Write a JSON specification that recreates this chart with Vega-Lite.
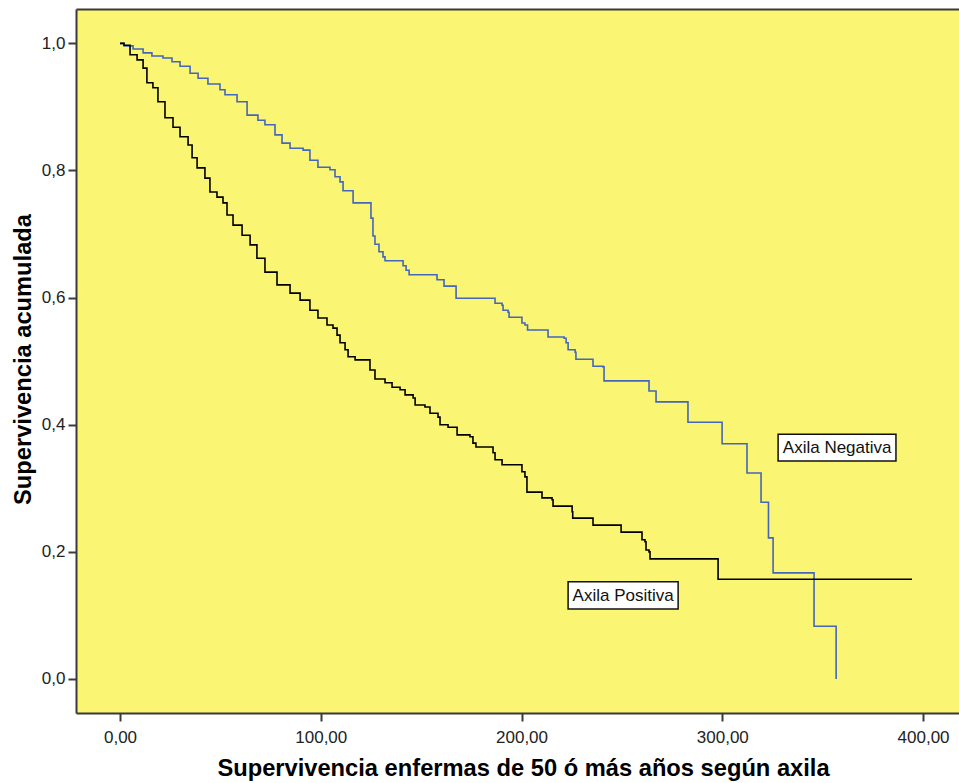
{
  "$schema": "https://vega.github.io/schema/vega-lite/v6.json",
  "width": 883,
  "height": 704,
  "autosize": {"type": "none"},
  "padding": {"left": 76, "top": 9, "right": 0, "bottom": 70},
  "background": "white",
  "config": {
    "view": {"fill": "#faf572", "stroke": null},
    "font": "Liberation Sans",
    "axis": {
      "grid": false,
      "domainColor": "#3a3a3a",
      "domainWidth": 2,
      "tickColor": "#3a3a3a",
      "tickWidth": 2,
      "tickSize": 8,
      "labelFont": "Liberation Sans",
      "labelFontSize": 17,
      "labelColor": "#222222",
      "titleFont": "Liberation Sans",
      "titleFontWeight": "bold",
      "titleFontSize": 23.7,
      "titleColor": "#000000"
    }
  },
  "datasets": {
    "curvas": [
      {"grupo": "Axila Negativa", "t": 0, "s": 1.0},
      {"grupo": "Axila Negativa", "t": 2.0, "s": 0.996},
      {"grupo": "Axila Negativa", "t": 6.5, "s": 0.991},
      {"grupo": "Axila Negativa", "t": 11.5, "s": 0.985},
      {"grupo": "Axila Negativa", "t": 15.9, "s": 0.980},
      {"grupo": "Axila Negativa", "t": 21.4, "s": 0.977},
      {"grupo": "Axila Negativa", "t": 25.9, "s": 0.971},
      {"grupo": "Axila Negativa", "t": 29.9, "s": 0.964},
      {"grupo": "Axila Negativa", "t": 34.9, "s": 0.953},
      {"grupo": "Axila Negativa", "t": 38.9, "s": 0.945},
      {"grupo": "Axila Negativa", "t": 43.8, "s": 0.936},
      {"grupo": "Axila Negativa", "t": 49.8, "s": 0.927},
      {"grupo": "Axila Negativa", "t": 52.3, "s": 0.919},
      {"grupo": "Axila Negativa", "t": 58.3, "s": 0.908},
      {"grupo": "Axila Negativa", "t": 63.3, "s": 0.887},
      {"grupo": "Axila Negativa", "t": 68.7, "s": 0.879},
      {"grupo": "Axila Negativa", "t": 72.2, "s": 0.872},
      {"grupo": "Axila Negativa", "t": 77.2, "s": 0.856},
      {"grupo": "Axila Negativa", "t": 80.7, "s": 0.843},
      {"grupo": "Axila Negativa", "t": 84.7, "s": 0.835},
      {"grupo": "Axila Negativa", "t": 91.2, "s": 0.832},
      {"grupo": "Axila Negativa", "t": 94.6, "s": 0.816},
      {"grupo": "Axila Negativa", "t": 98.6, "s": 0.805},
      {"grupo": "Axila Negativa", "t": 104.6, "s": 0.801},
      {"grupo": "Axila Negativa", "t": 107.1, "s": 0.790},
      {"grupo": "Axila Negativa", "t": 109.6, "s": 0.782},
      {"grupo": "Axila Negativa", "t": 111.1, "s": 0.768},
      {"grupo": "Axila Negativa", "t": 116.1, "s": 0.749},
      {"grupo": "Axila Negativa", "t": 125.0, "s": 0.725},
      {"grupo": "Axila Negativa", "t": 126.0, "s": 0.697},
      {"grupo": "Axila Negativa", "t": 127.0, "s": 0.684},
      {"grupo": "Axila Negativa", "t": 129.0, "s": 0.672},
      {"grupo": "Axila Negativa", "t": 131.0, "s": 0.664},
      {"grupo": "Axila Negativa", "t": 132.0, "s": 0.658},
      {"grupo": "Axila Negativa", "t": 141.0, "s": 0.650},
      {"grupo": "Axila Negativa", "t": 142.5, "s": 0.643},
      {"grupo": "Axila Negativa", "t": 144.0, "s": 0.636},
      {"grupo": "Axila Negativa", "t": 157.9, "s": 0.628},
      {"grupo": "Axila Negativa", "t": 161.4, "s": 0.618},
      {"grupo": "Axila Negativa", "t": 167.4, "s": 0.599},
      {"grupo": "Axila Negativa", "t": 186.8, "s": 0.591},
      {"grupo": "Axila Negativa", "t": 190.3, "s": 0.588},
      {"grupo": "Axila Negativa", "t": 190.8, "s": 0.580},
      {"grupo": "Axila Negativa", "t": 193.3, "s": 0.577},
      {"grupo": "Axila Negativa", "t": 193.8, "s": 0.569},
      {"grupo": "Axila Negativa", "t": 200.2, "s": 0.560},
      {"grupo": "Axila Negativa", "t": 201.7, "s": 0.557},
      {"grupo": "Axila Negativa", "t": 203.0, "s": 0.549},
      {"grupo": "Axila Negativa", "t": 213.2, "s": 0.538},
      {"grupo": "Axila Negativa", "t": 221.2, "s": 0.536},
      {"grupo": "Axila Negativa", "t": 222.2, "s": 0.529},
      {"grupo": "Axila Negativa", "t": 223.2, "s": 0.518},
      {"grupo": "Axila Negativa", "t": 226.7, "s": 0.514},
      {"grupo": "Axila Negativa", "t": 227.1, "s": 0.503},
      {"grupo": "Axila Negativa", "t": 235.6, "s": 0.492},
      {"grupo": "Axila Negativa", "t": 240.6, "s": 0.491},
      {"grupo": "Axila Negativa", "t": 241.1, "s": 0.469},
      {"grupo": "Axila Negativa", "t": 263.5, "s": 0.453},
      {"grupo": "Axila Negativa", "t": 267.0, "s": 0.436},
      {"grupo": "Axila Negativa", "t": 282.9, "s": 0.404},
      {"grupo": "Axila Negativa", "t": 299.9, "s": 0.370},
      {"grupo": "Axila Negativa", "t": 312.3, "s": 0.324},
      {"grupo": "Axila Negativa", "t": 319.3, "s": 0.278},
      {"grupo": "Axila Negativa", "t": 323.0, "s": 0.222},
      {"grupo": "Axila Negativa", "t": 325.3, "s": 0.167},
      {"grupo": "Axila Negativa", "t": 345.7, "s": 0.083},
      {"grupo": "Axila Negativa", "t": 356.7, "s": 0.0},
      {"grupo": "Axila Positiva", "t": 0, "s": 1.0},
      {"grupo": "Axila Positiva", "t": 2.0, "s": 0.997},
      {"grupo": "Axila Positiva", "t": 5.0, "s": 0.982},
      {"grupo": "Axila Positiva", "t": 8.5, "s": 0.974},
      {"grupo": "Axila Positiva", "t": 11.5, "s": 0.961},
      {"grupo": "Axila Positiva", "t": 13.4, "s": 0.938},
      {"grupo": "Axila Positiva", "t": 16.4, "s": 0.930},
      {"grupo": "Axila Positiva", "t": 18.9, "s": 0.908},
      {"grupo": "Axila Positiva", "t": 22.4, "s": 0.883},
      {"grupo": "Axila Positiva", "t": 26.4, "s": 0.868},
      {"grupo": "Axila Positiva", "t": 29.9, "s": 0.853},
      {"grupo": "Axila Positiva", "t": 33.9, "s": 0.840},
      {"grupo": "Axila Positiva", "t": 35.9, "s": 0.820},
      {"grupo": "Axila Positiva", "t": 38.4, "s": 0.804},
      {"grupo": "Axila Positiva", "t": 42.3, "s": 0.788},
      {"grupo": "Axila Positiva", "t": 44.8, "s": 0.766},
      {"grupo": "Axila Positiva", "t": 48.3, "s": 0.758},
      {"grupo": "Axila Positiva", "t": 51.3, "s": 0.749},
      {"grupo": "Axila Positiva", "t": 53.3, "s": 0.730},
      {"grupo": "Axila Positiva", "t": 56.3, "s": 0.714},
      {"grupo": "Axila Positiva", "t": 60.8, "s": 0.698},
      {"grupo": "Axila Positiva", "t": 64.8, "s": 0.683},
      {"grupo": "Axila Positiva", "t": 68.2, "s": 0.662},
      {"grupo": "Axila Positiva", "t": 72.2, "s": 0.640},
      {"grupo": "Axila Positiva", "t": 78.2, "s": 0.620},
      {"grupo": "Axila Positiva", "t": 84.7, "s": 0.607},
      {"grupo": "Axila Positiva", "t": 89.7, "s": 0.596},
      {"grupo": "Axila Positiva", "t": 94.6, "s": 0.580},
      {"grupo": "Axila Positiva", "t": 98.6, "s": 0.568},
      {"grupo": "Axila Positiva", "t": 103.1, "s": 0.557},
      {"grupo": "Axila Positiva", "t": 106.1, "s": 0.552},
      {"grupo": "Axila Positiva", "t": 108.1, "s": 0.541},
      {"grupo": "Axila Positiva", "t": 109.6, "s": 0.529},
      {"grupo": "Axila Positiva", "t": 112.1, "s": 0.518},
      {"grupo": "Axila Positiva", "t": 113.6, "s": 0.507},
      {"grupo": "Axila Positiva", "t": 117.1, "s": 0.502},
      {"grupo": "Axila Positiva", "t": 124.5, "s": 0.486},
      {"grupo": "Axila Positiva", "t": 127.0, "s": 0.472},
      {"grupo": "Axila Positiva", "t": 132.0, "s": 0.466},
      {"grupo": "Axila Positiva", "t": 135.5, "s": 0.459},
      {"grupo": "Axila Positiva", "t": 139.5, "s": 0.455},
      {"grupo": "Axila Positiva", "t": 142.0, "s": 0.447},
      {"grupo": "Axila Positiva", "t": 146.0, "s": 0.442},
      {"grupo": "Axila Positiva", "t": 147.0, "s": 0.431},
      {"grupo": "Axila Positiva", "t": 151.9, "s": 0.428},
      {"grupo": "Axila Positiva", "t": 154.4, "s": 0.418},
      {"grupo": "Axila Positiva", "t": 158.4, "s": 0.412},
      {"grupo": "Axila Positiva", "t": 159.4, "s": 0.400},
      {"grupo": "Axila Positiva", "t": 163.4, "s": 0.396},
      {"grupo": "Axila Positiva", "t": 167.9, "s": 0.384},
      {"grupo": "Axila Positiva", "t": 174.3, "s": 0.381},
      {"grupo": "Axila Positiva", "t": 175.8, "s": 0.371},
      {"grupo": "Axila Positiva", "t": 177.3, "s": 0.365},
      {"grupo": "Axila Positiva", "t": 185.8, "s": 0.356},
      {"grupo": "Axila Positiva", "t": 186.8, "s": 0.345},
      {"grupo": "Axila Positiva", "t": 190.3, "s": 0.337},
      {"grupo": "Axila Positiva", "t": 200.2, "s": 0.326},
      {"grupo": "Axila Positiva", "t": 201.7, "s": 0.318},
      {"grupo": "Axila Positiva", "t": 202.7, "s": 0.294},
      {"grupo": "Axila Positiva", "t": 210.2, "s": 0.285},
      {"grupo": "Axila Positiva", "t": 215.2, "s": 0.282},
      {"grupo": "Axila Positiva", "t": 215.7, "s": 0.272},
      {"grupo": "Axila Positiva", "t": 225.2, "s": 0.263},
      {"grupo": "Axila Positiva", "t": 225.5, "s": 0.253},
      {"grupo": "Axila Positiva", "t": 235.6, "s": 0.242},
      {"grupo": "Axila Positiva", "t": 249.6, "s": 0.231},
      {"grupo": "Axila Positiva", "t": 260.0, "s": 0.219},
      {"grupo": "Axila Positiva", "t": 261.5, "s": 0.216},
      {"grupo": "Axila Positiva", "t": 262.0, "s": 0.203},
      {"grupo": "Axila Positiva", "t": 263.5, "s": 0.200},
      {"grupo": "Axila Positiva", "t": 264.0, "s": 0.189},
      {"grupo": "Axila Positiva", "t": 297.9, "s": 0.157},
      {"grupo": "Axila Positiva", "t": 394.5, "s": 0.157}
    ],
    "etiquetas": [
      {"etiqueta": "Axila Negativa", "t": 357.2, "s": 0.364, "t0": 327.8, "t1": 386.5, "s0": 0.343, "s1": 0.385},
      {"etiqueta": "Axila Positiva", "t": 250.6, "s": 0.131, "t0": 223.2, "t1": 278.0, "s0": 0.110, "s1": 0.153}
    ]
  },
  "resolve": {"axis": {"x": "independent"}},
  "layer": [
    {
      "data": {"name": "curvas"},
      "mark": {"type": "line", "interpolate": "step-after", "strokeWidth": 1.6},
      "encoding": {
        "x": {
          "field": "t",
          "type": "quantitative",
          "scale": {"domain": [-21.92, 417.9], "nice": false, "zero": false},
          "axis": {
            "orient": "bottom",
            "values": [0, 100, 200, 300, 400],
            "labelExpr": "replace(format(datum.value, '.2f'), '.', ',')",
            "labelPadding": 8,
            "title": "Supervivencia enfermas de 50 ó más años según axila",
            "titleX": 447,
            "titleY": 62,
            "titleAlign": "center",
            "titleBaseline": "alphabetic"
          }
        },
        "y": {
          "field": "s",
          "type": "quantitative",
          "scale": {"domain": [-0.0535, 1.054], "nice": false, "zero": false},
          "axis": {
            "orient": "left",
            "values": [0, 0.2, 0.4, 0.6, 0.8, 1.0],
            "labelExpr": "replace(format(datum.value, '.1f'), '.', ',')",
            "labelPadding": 3,
            "title": "Supervivencia acumulada",
            "titleX": -46,
            "titleY": 350,
            "titleAngle": -90,
            "titleAlign": "center",
            "titleBaseline": "alphabetic"
          }
        },
        "color": {
          "field": "grupo",
          "type": "nominal",
          "scale": {"domain": ["Axila Negativa", "Axila Positiva"], "range": ["#4466bb", "#000000"]},
          "legend": null
        },
        "order": {"field": "t", "type": "quantitative"}
      }
    },
    {
      "data": {"name": "etiquetas"},
      "mark": {"type": "rect", "fill": "white", "stroke": "#111111", "strokeWidth": 1.5},
      "encoding": {
        "x": {
          "field": "t0",
          "type": "quantitative",
          "axis": {"orient": "top", "labels": false, "ticks": false, "title": null, "domain": true}
        },
        "x2": {"field": "t1"},
        "y": {"field": "s0", "type": "quantitative"},
        "y2": {"field": "s1"}
      }
    },
    {
      "data": {"name": "etiquetas"},
      "mark": {"type": "text", "font": "Liberation Sans", "fontSize": 17, "color": "#111111", "align": "center", "baseline": "middle"},
      "encoding": {
        "x": {"field": "t", "type": "quantitative", "axis": null},
        "y": {"field": "s", "type": "quantitative"},
        "text": {"field": "etiqueta"}
      }
    }
  ]
}
